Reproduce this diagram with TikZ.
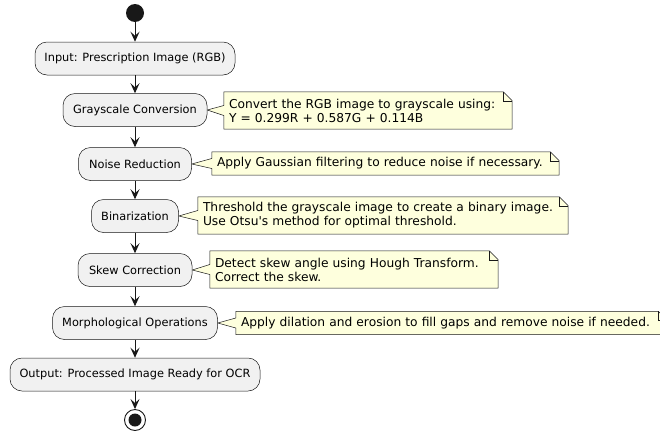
\documentclass[tikz,border=0pt]{standalone}
\usepackage{fontspec}
\setmainfont{DejaVu Sans}
\usetikzlibrary{arrows.meta,backgrounds}
\definecolor{actfill}{HTML}{F1F1F1}
\definecolor{notefill}{HTML}{FEFFDD}
\definecolor{ink}{HTML}{181818}

% Note outline with a pointer towards the activity #2 and a folded corner
\newcommand\notedraw[2]{%
  \begin{pgfonlayer}{background}
    \path[noteline] (#1.north west) -- ([xshift=-9pt]#1.north east)
      -- ([yshift=-9pt]#1.north east) -- (#1.south east) -- (#1.south west)
      -- ([yshift=-5pt]#1.west) -- (#2.east) -- ([yshift=5pt]#1.west) -- cycle;
    \draw[ink, line width=0.5pt] ([xshift=-9pt]#1.north east)
      -- ([xshift=-9pt,yshift=-9pt]#1.north east) -- ([yshift=-9pt]#1.north east);
  \end{pgfonlayer}}

\begin{document}
\begin{tikzpicture}[x=1pt,y=-1pt,
  act/.style={draw=ink, line width=0.5pt, fill=actfill, rounded corners=12pt,
    minimum height=33pt, inner sep=0pt, font=\fontsize{11.35}{13}\selectfont},
  notebox/.style={inner xsep=5pt, inner ysep=0pt, align=left,
    font=\fontsize{12.25}{14}\selectfont},
  noteline/.style={draw=ink, line width=0.5pt, fill=notefill, line join=miter},
  flow/.style={draw=ink, line width=1pt, -{Stealth[length=10pt,width=9pt,inset=4pt]}},
]
\begin{pgfonlayer}{background}
  \fill[white] (0,0) rectangle (660,434);
\end{pgfonlayer}
\useasboundingbox (0,0) rectangle (660,434);

% start / end markers
\node[circle, fill=ink, minimum size=18pt, inner sep=0pt] (start) at (135,13) {};
\node[circle, draw=ink, line width=0.9pt, fill=white, minimum size=21pt, inner sep=0pt] (stop) at (135,420) {};
\node[circle, fill=ink, minimum size=13pt, inner sep=0pt] (stopdot) at (stop) {};

% activities
\node[act, minimum width=200pt] (in)    at (135,58.5) {Input: Prescription Image (RGB)};
\node[act, minimum width=144pt] (gray)  at (135,110)  {Grayscale Conversion};
\node[act, minimum width=113pt] (noise) at (135,164)  {Noise Reduction};
\node[act, minimum width=87pt]  (bin)   at (135,216)  {Binarization};
\node[act, minimum width=114pt] (skew)  at (135,270)  {Skew Correction};
\node[act, minimum width=165pt] (morph) at (135,323)  {Morphological Operations};
\node[act, minimum width=250pt] (out)   at (135,374.5){Output: Processed Image Ready for OCR};

% control flow
\draw[flow] (start) -- (in);
\draw[flow] (in) -- (gray);
\draw[flow] (gray) -- (noise);
\draw[flow] (noise) -- (bin);
\draw[flow] (bin) -- (skew);
\draw[flow] (skew) -- (morph);
\draw[flow] (morph) -- (out);
\draw[flow] (out) -- (stop);

% notes
\node[notebox, text width=278pt, minimum height=37pt] (n1) at (368,110.5)
  {Convert the RGB image to grayscale using:\\Y = 0.299R + 0.587G + 0.114B};
\node[notebox, text width=337pt, minimum height=23pt] (n2) at (385.5,163.5)
  {Apply Gaussian filtering to reduce noise if necessary.};
\node[notebox, text width=360pt, minimum height=37pt] (n3) at (383,215.5)
  {Threshold the grayscale image to create a binary image.\\Use Otsu\textquotesingle s method for optimal threshold.};
\node[notebox, text width=278pt, minimum height=37pt] (n4) at (354,269.5)
  {Detect skew angle using Hough Transform.\\Correct the skew.};
\node[notebox, text width=421pt, minimum height=23pt] (n5) at (451.5,323)
  {Apply dilation and erosion to fill gaps and remove noise if needed.};

\notedraw{n1}{gray}
\notedraw{n2}{noise}
\notedraw{n3}{bin}
\notedraw{n4}{skew}
\notedraw{n5}{morph}
\end{tikzpicture}
\end{document}
